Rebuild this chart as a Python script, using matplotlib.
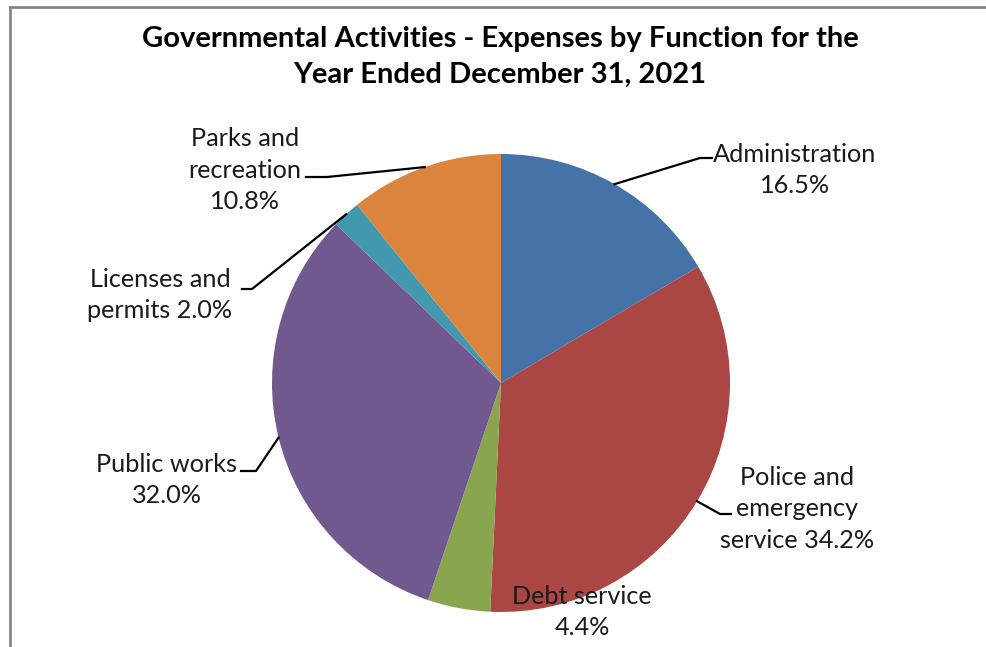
import numpy as np
import matplotlib.pyplot as plt
from matplotlib.lines import Line2D

plt.rcParams['font.family'] = ['Lato', 'DejaVu Sans']

# data
categories = ['Administration', 'Police and\nemergency\nservice', 'Debt service',
              'Public works', 'Licenses and\npermits', 'Parks and\nrecreation']
shares = [16.5, 34.2, 4.4, 32.0, 2.0, 10.8]
colors = ['#4572A7', '#AA4643', '#89A54E', '#71588F', '#4198AF', '#DB843D']

# label text built from the data
label_texts = [
    f'{categories[0]}\n{shares[0]:.1f}%',
    f'{categories[1]} {shares[1]:.1f}%',
    f'{categories[2]}\n{shares[2]:.1f}%',
    f'{categories[3]}\n{shares[3]:.1f}%',
    f'{categories[4]} {shares[4]:.1f}%',
    f'{categories[5]}\n{shares[5]:.1f}%',
]

# layout (pixel coords, y measured from top)
W, H = 986, 647
center = (501, 383)
radius = 229
label_pos = [(795, 170), (797, 509), (582, 612), (167, 480), (160, 295), (245, 170)]
# leader line elbow points (None = no leader)
elbows = [[(700, 158), (712, 158)],
          [(720, 514), (731, 514)],
          None,
          [(256, 471), (241, 471)],
          [(252, 289), (242, 289)],
          [(327, 177), (306, 177)]]

fig = plt.figure(figsize=(W / 100, H / 100), dpi=100)
ax = fig.add_axes([0, 0, 1, 1])

wedges, _ = ax.pie(shares, colors=colors, startangle=90, counterclock=False,
                   center=(center[0], H - center[1]), radius=radius,
                   wedgeprops=dict(linewidth=0))
ax.set_xlim(0, W)
ax.set_ylim(0, H)
ax.set_aspect('equal')
ax.axis('off')

for w, txt, pos, elb in zip(wedges, label_texts, label_pos, elbows):
    ax.text(pos[0], H - pos[1], txt, ha='center', va='center', fontsize=18.2,
            color='#1a1a1a', linespacing=1.43)
    if elb is not None:
        ang = np.radians((w.theta1 + w.theta2) / 2)
        ex = w.center[0] + w.r * np.cos(ang)
        ey = w.center[1] + w.r * np.sin(ang)
        xs = [ex] + [p[0] for p in elb]
        ys = [ey] + [H - p[1] for p in elb]
        ax.add_line(Line2D(xs, ys, color='black', lw=1.6))

ax.text(500, H - 57, 'Governmental Activities - Expenses by Function for the\nYear Ended December 31, 2021',
        ha='center', va='center', fontsize=21, fontweight='bold', color='black',
        linespacing=1.48)

# partial chart border (top and left)
ax.add_line(Line2D([10, W], [H - 7, H - 7], color='#868686', lw=2))
ax.add_line(Line2D([10, 10], [H - 7, 0], color='#868686', lw=2))

fig.savefig('out.png', dpi=100)
